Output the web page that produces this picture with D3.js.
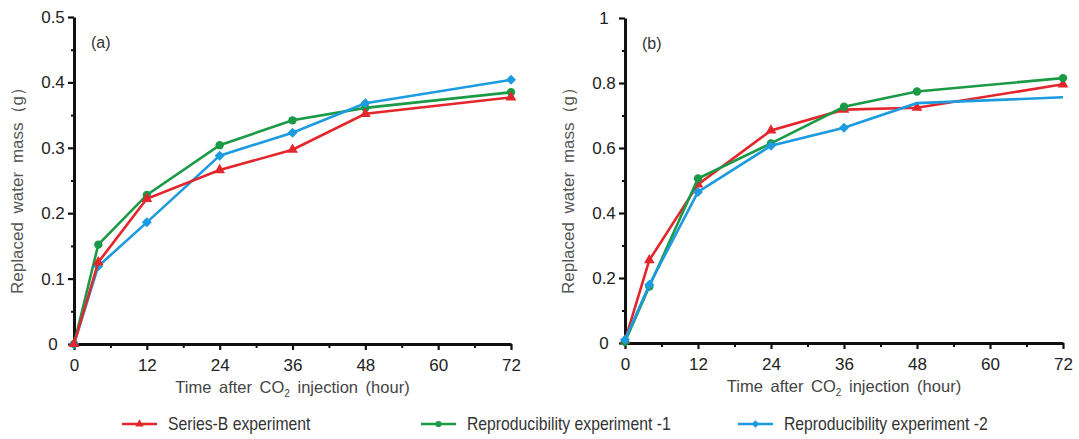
<!DOCTYPE html>
<html>
<head>
<meta charset="utf-8">
<script src="https://cdn.jsdelivr.net/npm/d3@7"></script>
<style>
  body { margin: 0; background: #fff; }
  svg { display: block; }
  text { font-family: "Liberation Sans", Arial, sans-serif; }
</style>
</head>
<body>
<svg id="chart" width="1079" height="439"></svg>
<script>
// sampling times (hour)
const hours = [0, 4, 12, 24, 36, 48, 72]

// panel (a)
const seriesBA = [0, 0.125, 0.222, 0.266, 0.297, 0.352, 0.377]
const repro1A = [0, 0.152, 0.228, 0.304, 0.342, 0.361, 0.385]
const repro2A = [0, 0.119, 0.186, 0.288, 0.323, 0.368, 0.404]

// panel (b)
const seriesBB = [0.008, 0.255, 0.488, 0.654, 0.718, 0.724, 0.796]
const repro1B = [0.004, 0.174, 0.506, 0.614, 0.727, 0.774, 0.815]
const repro2B = [0.01, 0.179, 0.465, 0.607, 0.662, 0.738, 0.756]
const repro2BMarks = [true, true, true, true, true, false, false]

const xTicks = [0, 12, 24, 36, 48, 60, 72]
const yTicksA = [0, 0.1, 0.2, 0.3, 0.4, 0.5]
const yTicksB = [0, 0.2, 0.4, 0.6, 0.8, 1]

const legendNames = ['Series-B experiment', 'Reproducibility experiment -1', 'Reproducibility experiment -2']
const colors = { red: '#e3262b', green: '#1a9a46', blue: '#1c9be0' }

const svg = d3.select('#chart')

// rotated square reads closer to the original diamond than d3's tall one
const diamond = {
    draw(ctx, size) {
        const r = Math.sqrt(size / 2)
        ctx.moveTo(0, -r); ctx.lineTo(r, 0); ctx.lineTo(0, r); ctx.lineTo(-r, 0); ctx.closePath()
    }
}

const drawPanel = (opts) => {
    const { left, right, top, bottom, yMax, yTicks, yMinor, tag, series } = opts
    const x = d3.scaleLinear().domain([0, 72]).range([left, right])
    const y = d3.scaleLinear().domain([0, yMax]).range([bottom, top])
    const g = svg.append('g')

    // minor ticks
    g.append('g')
        .attr('transform', `translate(0,${bottom})`)
        .call(d3.axisBottom(x).tickValues(d3.range(6, 72, 12)).tickSize(4).tickFormat(''))
        .call(a => a.select('.domain').remove())
        .call(a => a.selectAll('line').attr('stroke', '#111').attr('stroke-width', 2))
    g.append('g')
        .attr('transform', `translate(${left},0)`)
        .call(d3.axisLeft(y).tickValues(yMinor).tickSize(3).tickFormat(''))
        .call(a => a.select('.domain').remove())
        .call(a => a.selectAll('line').attr('stroke', '#111').attr('stroke-width', 2))

    // major axes
    const xAxis = g.append('g')
        .attr('transform', `translate(0,${bottom})`)
        .call(d3.axisBottom(x).tickValues(xTicks).tickSize(6).tickSizeOuter(0).tickPadding(9))
    const yAxis = g.append('g')
        .attr('transform', `translate(${left},0)`)
        .call(d3.axisLeft(y).tickValues(yTicks).tickSize(6).tickSizeOuter(0).tickFormat(d => d))
    ;[xAxis, yAxis].forEach(a => {
        a.select('.domain').attr('stroke', '#111').attr('stroke-width', 3)
        a.selectAll('.tick line').attr('stroke', '#111').attr('stroke-width', 2.2)
        a.selectAll('.tick text')
            .attr('fill', '#222')
            .style('font-size', '17px')
            .style('font-family', '"Liberation Sans", Arial, sans-serif')
    })
    yAxis.selectAll('.tick text').attr('text-anchor', 'middle').attr('x', -21)

    // axis titles
    const xt = g.append('text')
        .attr('x', (left + right) / 2)
        .attr('y', bottom + 49)
        .attr('text-anchor', 'middle')
        .attr('fill', '#444')
        .style('font-size', '16.5px')
        .style('word-spacing', '3px')
    xt.append('tspan').text('Time after CO')
    xt.append('tspan').text('2').style('font-size', '10px').attr('dy', 4)
    xt.append('tspan').text(' injection (hour)').attr('dy', -4)

    g.append('text')
        .attr('transform', `translate(${left - 51},${(top + bottom) / 2 + 6}) rotate(-90)`)
        .attr('text-anchor', 'middle')
        .attr('fill', '#555')
        .style('font-size', '17px')
        .style('word-spacing', '4px')
        .text('Replaced water mass（g）')

    g.append('text')
        .attr('x', left + 17)
        .attr('y', top + 31)
        .attr('fill', '#333')
        .style('font-size', '16px')
        .text(tag)

    const line = d3.line().x(d => x(d[0])).y(d => y(d[1]))
    series.forEach(s => {
        const pts = hours.map((h, i) => [h, s.values[i], s.marks ? s.marks[i] : true])
        g.append('path')
            .datum(pts)
            .attr('d', line)
            .attr('fill', 'none')
            .attr('stroke', s.color)
            .attr('stroke-width', 2.6)
        g.selectAll(null)
            .data(pts.filter(p => p[2]))
            .enter()
            .append('path')
            .attr('transform', d => `translate(${x(d[0])},${y(d[1])})`)
            .attr('d', d3.symbol().type(s.symbol).size(s.size))
            .attr('fill', s.color)
    })
}

drawPanel({
    left: 74, right: 511, top: 17, bottom: 344, yMax: 0.5,
    yTicks: yTicksA, yMinor: d3.range(0.05, 0.5, 0.1), tag: '(a)',
    series: [
        { values: repro1A, color: colors.green, symbol: d3.symbolCircle, size: 55 },
        { values: repro2A, color: colors.blue, symbol: diamond, size: 50 },
        { values: seriesBA, color: colors.red, symbol: d3.symbolTriangle, size: 50 }
    ]
})

drawPanel({
    left: 625, right: 1063, top: 18, bottom: 343, yMax: 1,
    yTicks: yTicksB, yMinor: d3.range(0.1, 1, 0.2), tag: '(b)',
    series: [
        { values: seriesBB, color: colors.red, symbol: d3.symbolTriangle, size: 50 },
        { values: repro1B, color: colors.green, symbol: d3.symbolCircle, size: 55 },
        { values: repro2B, color: colors.blue, symbol: diamond, size: 50, marks: repro2BMarks }
    ]
})

// legend
const legendItems = [
    { name: legendNames[0], color: colors.red, symbol: d3.symbolTriangle, x: 122 },
    { name: legendNames[1], color: colors.green, symbol: d3.symbolCircle, x: 421 },
    { name: legendNames[2], color: colors.blue, symbol: diamond, x: 738 }
]
const legend = svg.append('g').attr('transform', 'translate(0,424)')
const li = legend.selectAll('g').data(legendItems).enter().append('g')
    .attr('transform', d => `translate(${d.x},0)`)
li.append('line')
    .attr('x1', 0).attr('x2', 35)
    .attr('stroke', d => d.color)
    .attr('stroke-width', 2.6)
li.append('path')
    .attr('transform', 'translate(17.5,0)')
    .attr('d', d => d3.symbol().type(d.symbol).size(30)())
    .attr('fill', d => d.color)
li.append('text')
    .attr('transform', 'translate(46,6) scale(0.9,1)')
    .attr('fill', '#333')
    .style('font-size', '17.5px')
    .text(d => d.name)
</script>
</body>
</html>
